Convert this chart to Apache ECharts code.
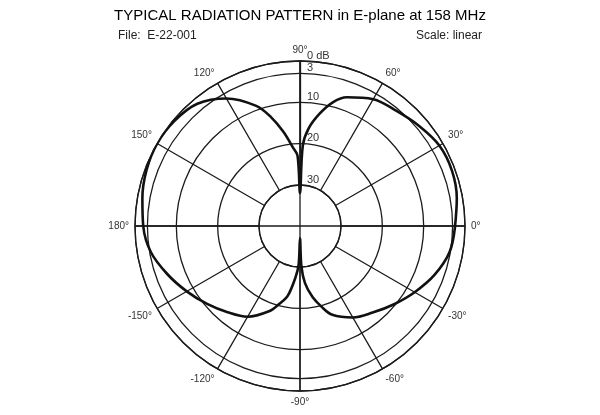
<!DOCTYPE html>
<html>
<head>
  <meta charset="utf-8">
  <title>Radiation pattern E-plane</title>
  <script src="https://cdn.jsdelivr.net/npm/echarts@6/dist/echarts.min.js" type="text/javascript" charset="utf-8"></script>
  <style>
    html, body { margin: 0; padding: 0; background: #ffffff; }
    #pattern { width: 600px; height: 415px; }
  </style>
</head>
<body>
<div id="pattern"></div>
<script>
  // angle of each reading, degrees, 0 = right, counter-clockwise
  var angles = [-180, -170, -160, -150, -140, -130, -120, -110, -105, -100, -95, -92, -90, -88, -85, -80, -75,
                -70, -60, -50, -40, -30, -20, -10, 0, 10, 20, 30, 40, 50, 60, 70, 75, 80, 85, 88,
                90, 92, 95, 100, 105, 110, 120, 130, 140, 150, 160, 170];
  // relative level in dB
  var gains = [-2.0, -3.3, -5.8, -8.3, -10.6, -12.7, -14.6, -18.0, -20.4, -22.8, -27.5, -30.7, -37.0, -30.2, -26.1, -22.5, -19.7,
               -17.1, -14.4, -12.6, -10.4, -7.9, -5.3, -3.2, -2.4, -1.4, -0.8, -1.0, -2.3, -3.6, -4.5, -6.8, -8.9, -12.3, -16.3, -20.5,
               -32.0, -23.0, -21.0, -16.8, -12.6, -9.0, -4.3, -1.3, -0.3, 0.0, -0.4, -1.2];
  // rings of the dB scale
  var ringLevels = [-30, -20, -10, -3, 0];
  var spokeStep = 30;

  var chartDom = document.getElementById('pattern');
  var myChart = echarts.init(chartDom);
  var option;

  // pattern goes on the full polar (0..360 deg, -40..0 dB)
  var points = [];
  for (var i = 0; i < angles.length; i++) {
    var a = angles[i] < 0 ? angles[i] + 360 : angles[i];
    points.push([gains[i], a]);
  }
  points.sort(function (p, q) { return p[1] - q[1]; });
  points.push([points[0][0], points[0][1] + 360]);

  var ink = '#1b1b1b';
  var font = '"Liberation Sans", Arial, sans-serif';
  var gridLine = { color: ink, width: 1.3 };

  option = {
    animation: false,
    backgroundColor: '#ffffff',
    title: [
      {
        text: 'TYPICAL RADIATION PATTERN in E-plane at 158 MHz',
        left: 'center',
        top: 3,
        textStyle: { fontFamily: font, fontSize: 15, fontWeight: 'normal', color: '#000' }
      },
      {
        text: 'File:  E-22-001',
        left: 113,
        top: 25,
        textStyle: { fontFamily: font, fontSize: 12, fontWeight: 'normal', color: '#222' }
      },
      {
        text: 'Scale: linear',
        right: 113,
        top: 25,
        textStyle: { fontFamily: font, fontSize: 12, fontWeight: 'normal', color: '#222' }
      }
    ],
    // polar 0: rings and spokes outside the 30 dB ring; polar 1: the centre cross and the pattern
    polar: [
      { center: [300, 226], radius: [41, 165] },
      { center: [300, 226], radius: [0, 165] }
    ],
    angleAxis: [
      {
        polarIndex: 0,
        type: 'value',
        min: 90,
        max: 450,
        interval: spokeStep,
        startAngle: 90,
        clockwise: false,
        axisLine: { lineStyle: gridLine },
        axisTick: { show: false },
        splitLine: { lineStyle: gridLine },
        axisLabel: {
          margin: 6,
          fontFamily: font,
          fontSize: 10,
          color: '#333',
          formatter: function (v) {
            var d = v % 360;
            if (d > 180) d -= 360;
            return d + '°';
          }
        }
      },
      {
        polarIndex: 1,
        type: 'value',
        min: 0,
        max: 360,
        interval: 90,
        startAngle: 0,
        clockwise: false,
        axisLine: { show: false },
        axisTick: { show: false },
        axisLabel: { show: false },
        splitLine: { lineStyle: gridLine }
      }
    ],
    radiusAxis: [
      {
        polarIndex: 0,
        type: 'value',
        min: -30,
        max: 0,
        interval: 10,
        axisLine: { lineStyle: gridLine },
        axisTick: { show: false, customValues: ringLevels },
        axisLabel: {
          customValues: ringLevels,
          margin: -7,
          align: 'left',
          verticalAlign: 'bottom',
          showMinLabel: true,
          showMaxLabel: true,
          fontFamily: font,
          fontSize: 11,
          color: '#333',
          formatter: function (v) {
            return v === 0 ? '0 dB' : String(-v);
          }
        },
        splitLine: { show: true, lineStyle: gridLine }
      },
      {
        polarIndex: 1,
        type: 'value',
        min: -40,
        max: 0,
        interval: 10,
        axisLine: { show: false },
        axisTick: { show: false },
        axisLabel: { show: false },
        splitLine: { show: false }
      }
    ],
    series: [
      {
        name: 'E-plane',
        type: 'line',
        coordinateSystem: 'polar',
        polarIndex: 1,
        data: points,
        showSymbol: false,
        smooth: 0.35,
        clip: false,
        lineStyle: { color: '#111', width: 2.6 }
      }
    ]
  };

  option && myChart.setOption(option);

  window.onresize = function () {
    myChart.resize();
  };
</script>
</body>
</html>
